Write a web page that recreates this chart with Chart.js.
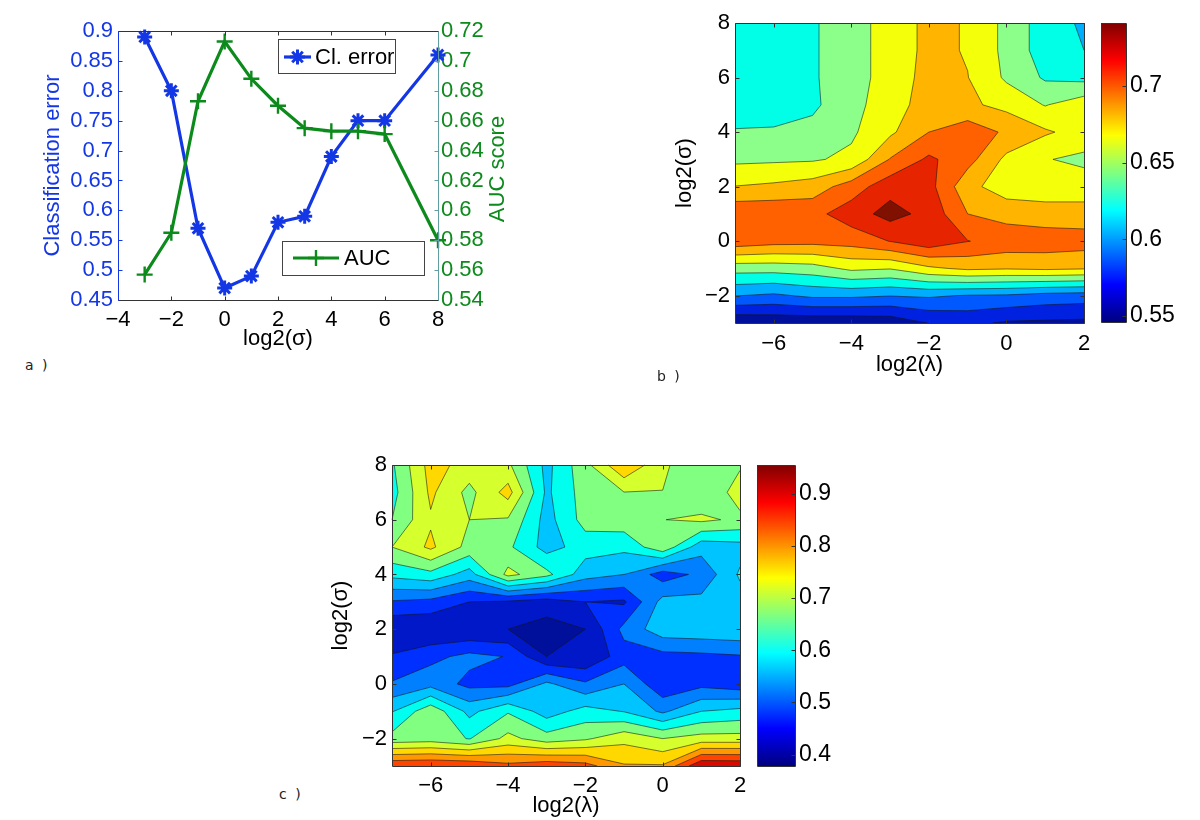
<!DOCTYPE html>
<html>
<head>
<meta charset="utf-8">
<title>Classification error and AUC</title>
<script src="https://cdn.jsdelivr.net/npm/chart.js@4"></script>
<style>
    body { margin: 0; background: #fff; }
    #page { position: relative; width: 1200px; height: 820px; overflow: hidden; }
    canvas { position: absolute; }
    .tag { position: absolute; font: 14px "DejaVu Sans"; letter-spacing: 2px; color: #222; }
</style>
</head>
<body>
<div id="page">
    <canvas id="chartA" width="471" height="352" style="left:40px;top:0"></canvas>
    <canvas id="chartB" width="428" height="378" style="left:672px;top:0"></canvas>
    <canvas id="barB" width="90" height="340" style="left:1101px;top:0"></canvas>
    <canvas id="chartC" width="428" height="379" style="left:328px;top:440px"></canvas>
    <canvas id="barC" width="100" height="345" style="left:757px;top:440px"></canvas>
    <div class="tag" style="left:25px;top:357px">a )</div>
    <div class="tag" style="left:657px;top:368px">b )</div>
    <div class="tag" style="left:279px;top:786px">c )</div>
</div>
<script>
// panel a
const sigmaA = [-3, -2, -1, 0, 1, 2, 3, 4, 5, 6, 8];
const errorA = [0.89, 0.80, 0.57, 0.47, 0.49, 0.58, 0.59, 0.69, 0.75, 0.75, 0.86];
const aucA = [0.557, 0.585, 0.673, 0.713, 0.688, 0.670, 0.655, 0.653, 0.653, 0.651, 0.580];

// grid axes of the two contour panels
const lambdas = [-7, -6, -5, -4, -3, -2, -1, 0, 1, 2];
const sigmas = [-3, -2, -1, 0, 1, 2, 3, 4, 5, 6, 7, 8];
const lambdaTicks = [-6, -4, -2, 0, 2];
const sigmaTicks = [-2, 0, 2, 4, 6, 8];

// panel b, one row per sigma, bottom row first
const gridB = [
    [0.549, 0.551, 0.551, 0.551, 0.553, 0.566, 0.570, 0.563, 0.562, 0.561],
    [0.603, 0.599, 0.606, 0.606, 0.603, 0.605, 0.601, 0.600, 0.595, 0.593],
    [0.647, 0.647, 0.650, 0.662, 0.659, 0.673, 0.680, 0.678, 0.680, 0.678],
    [0.707, 0.702, 0.701, 0.703, 0.714, 0.726, 0.714, 0.707, 0.706, 0.704],
    [0.710, 0.710, 0.708, 0.723, 0.739, 0.726, 0.695, 0.688, 0.684, 0.684],
    [0.677, 0.680, 0.685, 0.704, 0.725, 0.720, 0.682, 0.667, 0.667, 0.667],
    [0.654, 0.655, 0.656, 0.662, 0.696, 0.717, 0.702, 0.672, 0.659, 0.654],
    [0.640, 0.641, 0.645, 0.655, 0.673, 0.695, 0.706, 0.692, 0.679, 0.669],
    [0.636, 0.633, 0.636, 0.652, 0.668, 0.685, 0.680, 0.671, 0.657, 0.669],
    [0.634, 0.633, 0.637, 0.652, 0.664, 0.684, 0.677, 0.655, 0.637, 0.634],
    [0.632, 0.632, 0.637, 0.652, 0.664, 0.682, 0.675, 0.653, 0.630, 0.621],
    [0.632, 0.632, 0.637, 0.652, 0.664, 0.682, 0.675, 0.653, 0.630, 0.618]
];
const levelsB = [0.5655, 0.584, 0.6025, 0.621, 0.6395, 0.658, 0.6765, 0.695, 0.7135, 0.732];
const colorsB = ["#00109c", "#0022e0", "#0058ff", "#00aeff", "#00ffe6", "#8cff8a",
    "#f4ff0a", "#ffb400", "#ff6000", "#e62400", "#801000"];
const rangeB = [0.546, 0.741];
const barTicksB = [0.55, 0.6, 0.65, 0.7];

// panel c
const gridC = [
    [0.895, 0.900, 0.895, 0.865, 0.885, 0.870, 0.805, 0.805, 0.945, 0.9425],
    [0.6675, 0.675, 0.6475, 0.715, 0.6725, 0.6925, 0.735, 0.700, 0.720, 0.720],
    [0.596, 0.685, 0.585, 0.645, 0.575, 0.620, 0.5975, 0.540, 0.600, 0.615],
    [0.505, 0.5325, 0.485, 0.4825, 0.560, 0.5075, 0.550, 0.460, 0.485, 0.4675],
    [0.455, 0.485, 0.515, 0.4975, 0.400, 0.4025, 0.4775, 0.4825, 0.4875, 0.495],
    [0.405, 0.4025, 0.4025, 0.400, 0.380, 0.400, 0.515, 0.580, 0.585, 0.590],
    [0.495, 0.485, 0.450, 0.4425, 0.425, 0.450, 0.4425, 0.5675, 0.565, 0.5775],
    [0.615, 0.635, 0.5775, 0.715, 0.665, 0.570, 0.550, 0.475, 0.5125, 0.6075],
    [0.700, 0.760, 0.683, 0.660, 0.580, 0.6225, 0.6125, 0.685, 0.5685, 0.580],
    [0.650, 0.744, 0.700, 0.695, 0.580, 0.670, 0.680, 0.699, 0.710, 0.690],
    [0.630, 0.760, 0.685, 0.770, 0.590, 0.6735, 0.699, 0.699, 0.660, 0.720],
    [0.6425, 0.770, 0.730, 0.710, 0.585, 0.685, 0.795, 0.7115, 0.6515, 0.695]
];
const levelsC = [0.40, 0.45, 0.50, 0.55, 0.60, 0.65, 0.70, 0.75, 0.80, 0.85, 0.90];
const colorsC = ["#00109a", "#0018c8", "#0030ff", "#0080ff", "#00c4ff", "#00ffee",
    "#80ff80", "#d6ff2e", "#ffd800", "#ff9800", "#ff4400", "#d80a00"];
const rangeC = [0.378, 0.955];
const barTicksC = [0.4, 0.5, 0.6, 0.7, 0.8, 0.9];

const FONT = "'Liberation Sans', Arial, sans-serif";
const BLUE = "#1437e6";
const GREEN = "#0c8a1c";

Chart.defaults.font.family = FONT;
Chart.defaults.font.size = 22;
Chart.defaults.animation = false;
Chart.defaults.responsive = false;
Chart.defaults.plugins.legend.display = false;
Chart.defaults.plugins.tooltip.enabled = false;

function minusSign(v) {
    return String(+Number(v).toFixed(3)).replace("-", "\u2212");
}

function cross(a, b, level) {
    const t = (level - a.v) / (b.v - a.v);
    return { x: a.x + (b.x - a.x) * t, y: a.y + (b.y - a.y) * t };
}

// clips one grid cell to v >= level, gives polygons and contour segments
function clipCell(q, level) {
    const up = q.map(p => p.v >= level);
    const saddle = up[0] !== up[1] && up[1] !== up[2] && up[2] !== up[3];
    const mean = (q[0].v + q[1].v + q[2].v + q[3].v) / 4;
    // saddle with a low mean: the two high corners stay apart
    if (saddle && mean < level) {
        const polys = [], segs = [];
        q.forEach((p, i) => {
            if (!up[i]) return;
            const a = cross(p, q[(i + 1) % 4], level), b = cross(p, q[(i + 3) % 4], level);
            polys.push([b, p, a]);
            segs.push([a, b]);
        });
        return { polys: polys, segs: segs };
    }
    const poly = [], cuts = [];
    for (let i = 0; i < 4; i++) {
        const a = q[i], b = q[(i + 1) % 4];
        if (a.v >= level) poly.push(a);
        if ((a.v >= level) !== (b.v >= level)) {
            const p = cross(a, b, level);
            poly.push(p);
            cuts.push({ p: p, leaving: a.v >= level });
        }
    }
    if (cuts.length && !cuts[0].leaving) cuts.push(cuts.shift());
    const segs = [];
    for (let i = 0; i + 1 < cuts.length; i += 2) segs.push([cuts[i].p, cuts[i + 1].p]);
    return { polys: poly.length >= 3 ? [poly] : [], segs: segs };
}

const contourPlugin = {
    id: "contourFill",
    beforeDatasetsDraw(chart) {
        const cfg = chart.options.plugins.contourFill;
        if (!cfg || !cfg.grid) return;
        const g = cfg.grid, xs = chart.scales.x, ys = chart.scales.y, c = chart.ctx;
        const area = chart.chartArea;
        const corner = (rr, kk) => ({
            x: xs.getPixelForValue(lambdas[kk]),
            y: ys.getPixelForValue(sigmas[rr]),
            v: g[rr][kk]
        });
        c.save();
        c.fillStyle = cfg.colors[0];
        c.fillRect(area.left, area.top, area.right - area.left, area.bottom - area.top);
        let allSegs = [];
        cfg.levels.forEach((level, n) => {
            c.beginPath();
            for (let r = 0; r + 1 < g.length; r++) {
                for (let k = 0; k + 1 < g[r].length; k++) {
                    const cell = clipCell([corner(r, k), corner(r, k + 1), corner(r + 1, k + 1), corner(r + 1, k)], level);
                    allSegs = allSegs.concat(cell.segs);
                    cell.polys.forEach(poly => {
                        c.moveTo(poly[0].x, poly[0].y);
                        poly.slice(1).forEach(p => c.lineTo(p.x, p.y));
                        c.closePath();
                    });
                }
            }
            c.fillStyle = cfg.colors[n + 1];
            c.fill();
        });
        c.beginPath();
        allSegs.forEach(s => {
            c.moveTo(s[0].x, s[0].y);
            c.lineTo(s[1].x, s[1].y);
        });
        c.strokeStyle = "rgba(20,20,20,0.7)";
        c.lineWidth = 0.8;
        c.stroke();
        c.restore();
    }
};

// box round the plot with short ticks pointing inward, on all sides
const framePlugin = {
    id: "frame",
    afterDatasetsDraw(chart) {
        const a = chart.chartArea, c = chart.ctx;
        const cfg = chart.options.plugins.frame || {};
        const len = 4;
        c.save();
        c.lineWidth = 1;
        const line = (x1, y1, x2, y2, col) => {
            c.strokeStyle = col;
            c.beginPath();
            c.moveTo(Math.round(x1) + 0.5, Math.round(y1) + 0.5);
            c.lineTo(Math.round(x2) + 0.5, Math.round(y2) + 0.5);
            c.stroke();
        };
        const dark = "#333";
        const leftCol = cfg.left || dark, rightCol = cfg.right || dark;
        if (chart.scales.x && chart.scales.x.options.display !== false) {
            chart.scales.x.ticks.forEach(t => {
                const x = chart.scales.x.getPixelForValue(t.value);
                line(x, a.bottom, x, a.bottom - len, dark);
                line(x, a.top, x, a.top + len, dark);
            });
        }
        const y1 = chart.scales.y;
        y1.ticks.forEach(t => {
            const y = y1.getPixelForValue(t.value);
            if (y1.position === "left") line(a.left, y, a.left + len, y, leftCol);
            if (y1.position === "right" || !chart.scales.y2) line(a.right, y, a.right - len, y, y1.position === "right" ? dark : rightCol);
        });
        if (chart.scales.y2) {
            chart.scales.y2.ticks.forEach(t => {
                const y = chart.scales.y2.getPixelForValue(t.value);
                line(a.right, y, a.right - len, y, rightCol);
            });
        }
        line(a.left, a.top, a.right, a.top, dark);
        line(a.left, a.bottom, a.right, a.bottom, dark);
        line(a.left, a.top, a.left, a.bottom, leftCol);
        line(a.right, a.top, a.right, a.bottom, rightCol);
        c.restore();
    }
};

// two separate legend boxes as in the figure, and the right axis title read bottom to top
const legendBoxes = {
    id: "legendBoxes",
    afterDraw(chart) {
        const cfg = chart.options.plugins.legendBoxes;
        if (!cfg || !cfg.items) return;
        const c = chart.ctx;
        c.save();
        cfg.items.forEach(it => {
            c.fillStyle = "#fff";
            c.fillRect(it.box[0], it.box[1], it.box[2], it.box[3]);
            c.strokeStyle = "#444";
            c.lineWidth = 1;
            c.strokeRect(it.box[0] + 0.5, it.box[1] + 0.5, it.box[2], it.box[3]);
            c.strokeStyle = it.color;
            c.lineWidth = 3.2;
            c.beginPath();
            c.moveTo(it.line[0], it.y);
            c.lineTo(it.line[1], it.y);
            c.stroke();
            c.lineWidth = it.markerWidth;
            Chart.helpers.drawPoint(c, { pointStyle: it.marker, radius: it.radius, borderWidth: it.markerWidth, rotation: 0 },
                (it.line[0] + it.line[1]) / 2, it.y);
            c.fillStyle = "#000";
            c.font = "22px " + FONT;
            c.textBaseline = "middle";
            c.fillText(it.text, it.textX, it.y + 1);
        });
        c.translate(cfg.sideTitle.x, cfg.sideTitle.y);
        c.rotate(-Math.PI / 2);
        c.fillStyle = cfg.sideTitle.color;
        c.font = "22px " + FONT;
        c.textAlign = "center";
        c.textBaseline = "middle";
        c.fillText(cfg.sideTitle.text, 0, 0);
        c.restore();
    }
};

Chart.register(contourPlugin, framePlugin, legendBoxes);

function axisTitle(text, color) {
    return { display: true, text: text, color: color, padding: 0, font: { size: 22 } };
}

const noGrid = { display: false, drawTicks: false };

new Chart(document.getElementById("chartA"), {
    type: "scatter",
    data: {
        datasets: [{
            label: "AUC",
            data: sigmaA.map((x, i) => ({ x: x, y: aucA[i] })),
            yAxisID: "y2",
            showLine: true,
            borderColor: GREEN,
            borderWidth: 3.2,
            pointStyle: "cross",
            pointRadius: 8,
            pointBorderColor: GREEN,
            pointBorderWidth: 2.4,
            tension: 0
        }, {
            label: "Cl. error",
            data: sigmaA.map((x, i) => ({ x: x, y: errorA[i] })),
            yAxisID: "y",
            showLine: true,
            borderColor: BLUE,
            borderWidth: 3.2,
            pointStyle: "star",
            pointRadius: 7.5,
            pointBorderColor: BLUE,
            pointBorderWidth: 3,
            tension: 0
        }]
    },
    options: {
        clip: false,
        layout: { padding: { top: 31 } },
        scales: {
            x: {
                type: "linear", min: -4, max: 8,
                grid: noGrid,
                border: { display: false },
                ticks: { stepSize: 2, color: "#000", padding: 7, maxRotation: 0, callback: minusSign },
                title: axisTitle("log2(\u03c3)", "#000"),
                afterFit: s => { s.height = 52; }
            },
            y: {
                position: "left", min: 0.45, max: 0.9,
                grid: noGrid,
                border: { display: false },
                ticks: { stepSize: 0.05, color: BLUE, padding: 5, autoSkip: false, callback: minusSign },
                title: axisTitle("Classification error", BLUE),
                afterFit: s => { s.width = 78; }
            },
            y2: {
                position: "right", min: 0.54, max: 0.72,
                grid: noGrid,
                border: { display: false },
                ticks: { stepSize: 0.02, color: GREEN, padding: 3, autoSkip: false, callback: minusSign },
                afterFit: s => { s.width = 73; }
            }
        },
        plugins: {
            frame: { left: BLUE, right: "#5f9ea0" },
            legendBoxes: {
                items: [
                    { box: [238, 39, 117, 34], y: 57, line: [244, 271], color: BLUE, marker: "star", radius: 7.5, markerWidth: 3, text: "Cl. error", textX: 275 },
                    { box: [242, 241, 142, 34], y: 258, line: [253, 299], color: GREEN, marker: "cross", radius: 8, markerWidth: 2.4, text: "AUC", textX: 304 }
                ],
                sideTitle: { text: "AUC score", color: GREEN, x: 458, y: 169 }
            }
        }
    }
});

function contourChart(id, grid, levels, colors, yWidth, xHeight, topPad, tickPad) {
    const points = [];
    grid.forEach((row, r) => row.forEach((v, k) => points.push({ x: lambdas[k], y: sigmas[r], v: v })));
    return new Chart(document.getElementById(id), {
        type: "scatter",
        data: { datasets: [{ data: points, pointRadius: 0 }] },
        options: {
            layout: { padding: { top: topPad, right: 16 } },
            scales: {
                x: {
                    type: "linear", min: -7, max: 2,
                    grid: noGrid,
                    border: { display: false },
                    afterBuildTicks: s => { s.ticks = lambdaTicks.map(v => ({ value: v })); },
                    ticks: { color: "#000", padding: tickPad, maxRotation: 0, callback: minusSign },
                    title: axisTitle("log2(\u03bb)", "#000"),
                    afterFit: s => { s.height = xHeight; }
                },
                y: {
                    min: -3, max: 8,
                    grid: noGrid,
                    border: { display: false },
                    afterBuildTicks: s => { s.ticks = sigmaTicks.map(v => ({ value: v })); },
                    ticks: { color: "#000", padding: 5, callback: minusSign },
                    title: axisTitle("log2(\u03c3)", "#000"),
                    afterFit: s => { s.width = yWidth; }
                }
            },
            plugins: { contourFill: { grid: grid, levels: levels, colors: colors } }
        }
    });
}

function colorBar(id, range, barTicks, yWidth, topPad, bottomPad) {
    return new Chart(document.getElementById(id), {
        type: "bar",
        data: {
            labels: [""],
            datasets: [{
                data: [range],
                barPercentage: 1,
                categoryPercentage: 1,
                backgroundColor: ctx => {
                    const a = ctx.chart.chartArea;
                    if (!a) return "#00f";
                    const g = ctx.chart.ctx.createLinearGradient(0, a.bottom, 0, a.top);
                    g.addColorStop(0, "#00007f");
                    g.addColorStop(0.125, "#0000ff");
                    g.addColorStop(0.375, "#00ffff");
                    g.addColorStop(0.625, "#ffff00");
                    g.addColorStop(0.875, "#ff0000");
                    g.addColorStop(1, "#7f0000");
                    return g;
                }
            }]
        },
        options: {
            layout: { padding: { top: topPad, bottom: bottomPad } },
            scales: {
                x: { display: false },
                y: {
                    position: "right", min: range[0], max: range[1],
                    grid: noGrid,
                    border: { display: false },
                    afterBuildTicks: s => { s.ticks = barTicks.map(v => ({ value: v })); },
                    ticks: { color: "#000", padding: 4, font: { size: 23 }, callback: minusSign },
                    afterFit: s => { s.width = yWidth; }
                }
            }
        }
    });
}

contourChart("chartB", gridB, levelsB, colorsB, 63, 55, 23, 8);
colorBar("barB", rangeB, barTicksB, 65, 23, 16);
contourChart("chartC", gridC, levelsC, colorsC, 64, 53, 25, 7);
colorBar("barC", rangeC, barTicksC, 62, 25, 19);
</script>
</body>
</html>
